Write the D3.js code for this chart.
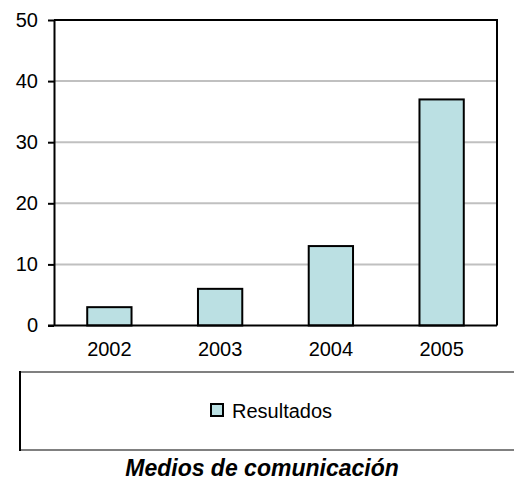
<!DOCTYPE html>
<html>
<head>
<meta charset="utf-8">
<script src="https://cdn.jsdelivr.net/npm/d3@7"></script>
<style>
  html, body { margin: 0; padding: 0; background: #fff; }
  svg { display: block; }
  svg text { font-family: "Liberation Sans", Arial, sans-serif; fill: #000; }
</style>
</head>
<body>
<svg id="chart" width="514" height="488"></svg>
<script>
// Yearly counts for the "Resultados" series
const years = ["2002", "2003", "2004", "2005"];
const resultados = [3, 6, 13, 37];
const yTicks = [0, 10, 20, 30, 40, 50];
const seriesName = "Resultados";
const chartTitle = "Medios de comunicación";

const svg = d3.select("#chart");
const plot = { left: 54, right: 497, top: 20, bottom: 325.5 };
const barFill = "#bbe0e3";

const x = d3.scaleBand()
  .domain(years)
  .range([plot.left, plot.right])
  .paddingInner(0.6)
  .paddingOuter(0.3);

const y = d3.scaleLinear()
  .domain([0, 50])
  .range([plot.bottom, plot.top]);

// Horizontal gridlines
svg.append("g")
  .selectAll("line")
  .data(yTicks.filter(t => t > 0 && t < 50))
  .join("line")
  .attr("x1", plot.left).attr("x2", plot.right)
  .attr("y1", d => y(d)).attr("y2", d => y(d))
  .attr("stroke", "#c0c0c0").attr("stroke-width", 2);

// Bars
svg.append("g")
  .selectAll("rect")
  .data(resultados)
  .join("rect")
  .attr("x", (d, i) => x(years[i]))
  .attr("y", d => y(d))
  .attr("width", x.bandwidth())
  .attr("height", d => y(0) - y(d))
  .attr("fill", barFill)
  .attr("stroke", "#000")
  .attr("stroke-width", 2);

// Plot frame: top and right edges
svg.append("path")
  .attr("d", `M${plot.left},${plot.top}H${plot.right}V${plot.bottom}`)
  .attr("fill", "none").attr("stroke", "#000").attr("stroke-width", 2);

// Y axis
const yAxis = svg.append("g")
  .attr("transform", `translate(${plot.left},0)`)
  .call(d3.axisLeft(y).tickValues(yTicks).tickSize(6).tickSizeOuter(0).tickPadding(10));
yAxis.attr("font-family", null).attr("font-size", null);
yAxis.select(".domain").attr("stroke", "#000").attr("stroke-width", 2);
yAxis.selectAll(".tick line").attr("stroke", "#000").attr("stroke-width", 2);
yAxis.selectAll(".tick text").style("font-size", "20px");

// X axis
const xAxis = svg.append("g")
  .attr("transform", `translate(0,${plot.bottom})`)
  .call(d3.axisBottom(x).tickSize(0).tickPadding(16));
xAxis.attr("font-family", null).attr("font-size", null);
xAxis.select(".domain").attr("d", `M${plot.left - 6},0H${plot.right}`)
  .attr("stroke", "#000").attr("stroke-width", 2);
xAxis.selectAll(".tick text").style("font-size", "20px");

// Legend box
const legend = svg.append("g");
legend.append("line").attr("x1", 20).attr("x2", 514).attr("y1", 372).attr("y2", 372)
  .attr("stroke", "#808080").attr("stroke-width", 2);
legend.append("line").attr("x1", 20).attr("x2", 514).attr("y1", 450).attr("y2", 450)
  .attr("stroke", "#808080").attr("stroke-width", 2);
legend.append("line").attr("x1", 20).attr("x2", 20).attr("y1", 371).attr("y2", 451)
  .attr("stroke", "#000").attr("stroke-width", 2);
legend.append("rect")
  .attr("x", 211).attr("y", 404).attr("width", 12).attr("height", 12)
  .attr("fill", barFill).attr("stroke", "#000").attr("stroke-width", 2);
legend.append("text")
  .attr("x", 232).attr("y", 418)
  .style("font-size", "20px")
  .text(seriesName);

// Chart title
svg.append("text")
  .attr("x", 262).attr("y", 476)
  .attr("text-anchor", "middle")
  .style("font-size", "23px").style("font-weight", "bold").style("font-style", "italic")
  .text(chartTitle);
</script>
</body>
</html>
